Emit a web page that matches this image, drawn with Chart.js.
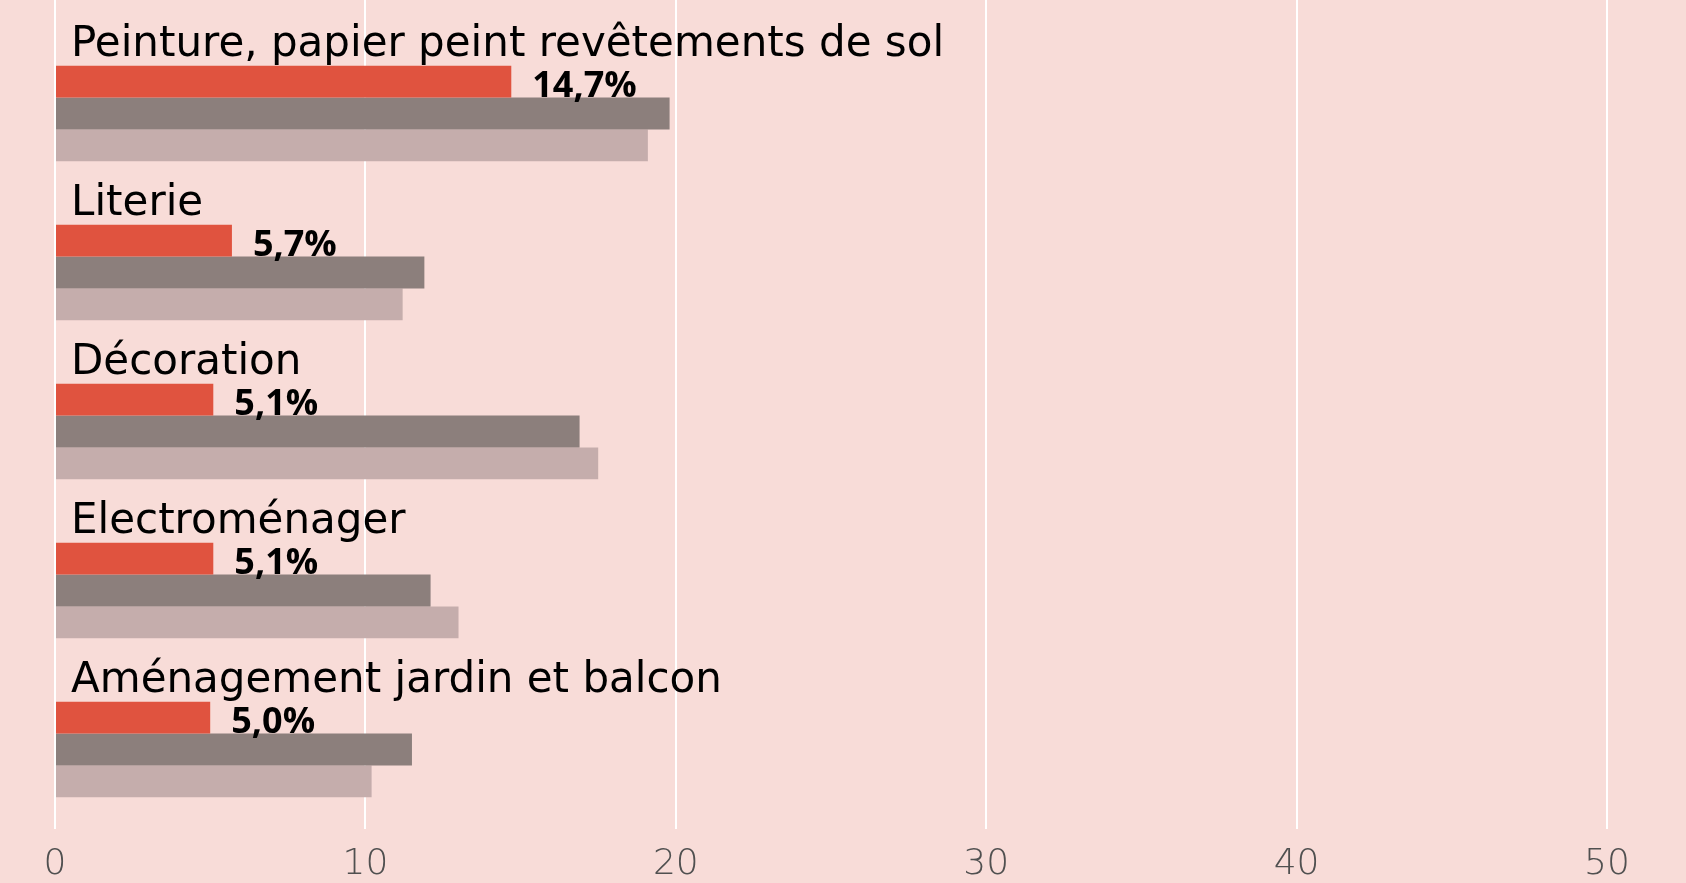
<!DOCTYPE html>
<html>
<head>
<meta charset="utf-8">
<script src="https://cdn.jsdelivr.net/npm/chart.js@4/dist/chart.umd.min.js"></script>
<style>
  html, body { margin: 0; padding: 0; background: #F8DCD8; }
  #wrap { width: 1686px; height: 883px; position: relative; }
</style>
</head>
<body>
<div id="wrap"><canvas id="c"></canvas></div>
<script>
const categories = [
  "Peinture, papier peint revêtements de sol",
  "Literie",
  "Décoration",
  "Electroménager",
  "Aménagement jardin et balcon"
];
const seriesRed = [14.7, 5.7, 5.1, 5.1, 5.0];
const seriesDark = [19.8, 11.9, 16.9, 12.1, 11.5];
const seriesLight = [19.1, 11.2, 17.5, 13.0, 10.2];
const valueLabels = ["14,7%", "5,7%", "5,1%", "5,1%", "5,0%"];
const xTicks = [0, 10, 20, 30, 40, 50];

const BG = "#F8DCD8";

const bgPlugin = {
  id: "bg",
  beforeDraw(chart) {
    const ctx = chart.ctx;
    ctx.save();
    ctx.fillStyle = BG;
    ctx.fillRect(0, 0, chart.width, chart.height);
    ctx.restore();
  },
  beforeDatasetsDraw(chart) {
    const ctx = chart.ctx, xs = chart.scales.x, area = chart.chartArea;
    ctx.save();
    ctx.strokeStyle = "#ffffff";
    ctx.lineWidth = 2;
    xTicks.forEach(v => {
      const px = Math.round(xs.getPixelForValue(v));
      ctx.beginPath();
      ctx.moveTo(px, 0);
      ctx.lineTo(px, area.top);
      ctx.stroke();
    });
    ctx.restore();
  },
  afterDatasetsDraw(chart) {
    const ctx = chart.ctx, area = chart.chartArea;
    const meta = chart.getDatasetMeta(0);
    ctx.save();
    meta.data.forEach((bar, i) => {
      const top = bar.y - bar.height / 2;
      const bottom = bar.y + bar.height / 2;
      ctx.fillStyle = "#000000";
      ctx.textBaseline = "alphabetic";
      ctx.textAlign = "left";
      ctx.font = "400 42px 'DejaVu Sans'";
      ctx.fillText(categories[i], area.left + 16, top - 10);
      ctx.font = "700 36px 'Open Sans'";
      ctx.fillText(valueLabels[i], bar.x + 21, bottom - 1);
    });
    ctx.restore();
  }
};

new Chart(document.getElementById("c"), {
  type: "bar",
  data: {
    labels: categories,
    datasets: [
      { data: seriesRed, backgroundColor: "#E0533F" },
      { data: seriesDark, backgroundColor: "#8C7F7C" },
      { data: seriesLight, backgroundColor: "#C5ADAC" }
    ]
  },
  options: {
    indexAxis: "y",
    responsive: true,
    maintainAspectRatio: false,
    animation: false,
    layout: { padding: { top: 34, left: 55, right: 79, bottom: 0 } },
    datasets: { bar: { categoryPercentage: 0.6, barPercentage: 1.0, borderWidth: 0 } },
    plugins: { legend: { display: false }, tooltip: { enabled: false } },
    scales: {
      x: {
        min: 0, max: 50,
        afterBuildTicks(scale) { scale.ticks = xTicks.map(v => ({ value: v })); },
        afterFit(scale) { scale.height = 54; },
        grid: { color: "#ffffff", lineWidth: 2, drawTicks: false },
        border: { display: false },
        ticks: {
          color: "#505050",
          padding: 18,
          font: { family: "'DejaVu Sans'", size: 36, weight: "200", lineHeight: 1.0 },
          maxRotation: 0
        }
      },
      y: { display: false }
    }
  },
  plugins: [bgPlugin]
});
</script>
</body>
</html>
